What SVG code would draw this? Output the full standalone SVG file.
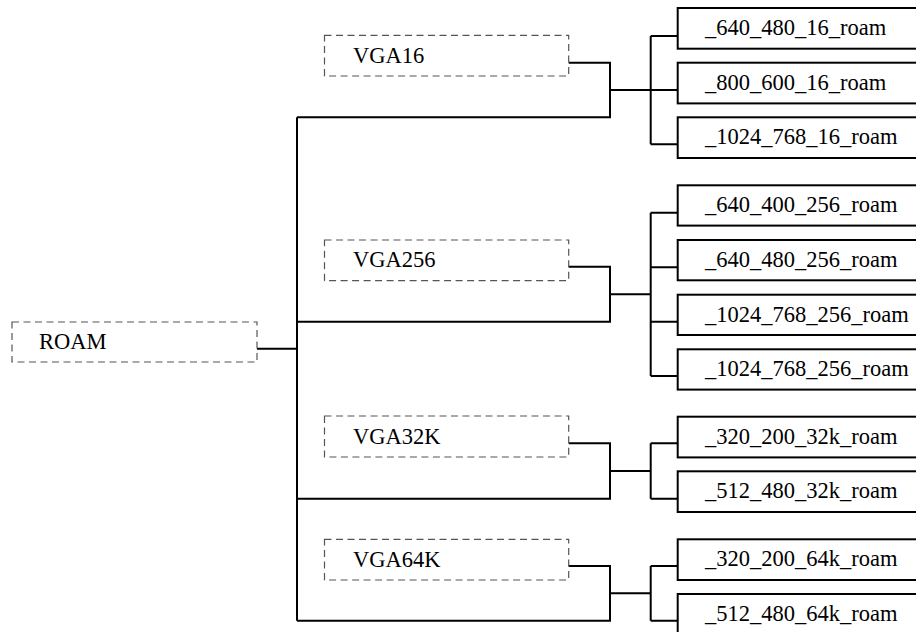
<svg xmlns="http://www.w3.org/2000/svg" width="916" height="632" viewBox="0 0 916 632">
<style>
.bg{fill:#fff}
.dash rect{fill:none;stroke:#555;stroke-width:1.2;stroke-dasharray:7,4.5}
.leaf rect{fill:#fff;stroke:#000;stroke-width:2}
.t{font-size:22.5px;fill:#000}
#connectors path{fill:none;stroke:#000;stroke-width:2}
</style>
<rect class="bg" x="0" y="0" width="916" height="632"/>
<g id="connectors">
<path d="M257,348.7H297M297,117.3V620.7"/>
<path d="M568.7,62.7H610V117.3H297M610,90H650.7M650.7,36V144.3M650.7,36H677.7M650.7,90H677.7M650.7,144.3H677.7"/>
<path d="M568.7,266.7H610V321.7H297M610,294.3H650.7M650.7,212.7V376M650.7,212.7H677.7M650.7,267.3H677.7M650.7,321.7H677.7M650.7,376H677.7"/>
<path d="M568.7,443.3H610V498.7H297M610,471H650.7M650.7,443.3V498.7M650.7,443.3H677.7M650.7,498.7H677.7"/>
<path d="M568.7,566H610V620.7H297M610,593.3H650.7M650.7,566V620.7M650.7,566H677.7M650.7,620.7H677.7"/>
</g>
<g font-family="Liberation Serif, Times New Roman, serif">
<g id="roam" class="dash"><rect x="12" y="322" width="245" height="40"/><text class="t" x="39" y="349">ROAM</text></g>
<g id="vga16" class="dash"><rect x="324.5" y="35.3" width="244.2" height="40.7"/><text class="t" x="353" y="62.7">VGA16</text></g>
<g id="vga256" class="dash"><rect x="324.5" y="240" width="244.2" height="40.7"/><text class="t" x="353" y="267">VGA256</text></g>
<g id="vga32k" class="dash"><rect x="324.5" y="416" width="244.2" height="41"/><text class="t" x="353" y="443.5">VGA32K</text></g>
<g id="vga64k" class="dash"><rect x="324.5" y="539.3" width="244.2" height="40.7"/><text class="t" x="353" y="566.5">VGA64K</text></g>
<g id="l_640_480_16" class="leaf"><rect x="677.7" y="8" width="260" height="40.7"/><text class="t" x="705" y="35">_640_480_16_roam</text></g>
<g id="l_800_600_16" class="leaf"><rect x="677.7" y="62.7" width="260" height="40.7"/><text class="t" x="705" y="89.7">_800_600_16_roam</text></g>
<g id="l_1024_768_16" class="leaf"><rect x="677.7" y="117.3" width="260" height="40.7"/><text class="t" x="705" y="144.3">_1024_768_16_roam</text></g>
<g id="l_640_400_256" class="leaf"><rect x="677.7" y="185.3" width="260" height="40.3"/><text class="t" x="705" y="212.3">_640_400_256_roam</text></g>
<g id="l_640_480_256" class="leaf"><rect x="677.7" y="240" width="260" height="40.3"/><text class="t" x="705" y="267">_640_480_256_roam</text></g>
<g id="l_1024_768_256a" class="leaf"><rect x="677.7" y="294.7" width="260" height="40.3"/><text class="t" x="705" y="321.7">_1024_768_256_roam</text></g>
<g id="l_1024_768_256b" class="leaf"><rect x="677.7" y="349.3" width="260" height="40.3"/><text class="t" x="705" y="376.3">_1024_768_256_roam</text></g>
<g id="l_320_200_32k" class="leaf"><rect x="677.7" y="416.7" width="260" height="40.7"/><text class="t" x="705" y="443.5">_320_200_32k_roam</text></g>
<g id="l_512_480_32k" class="leaf"><rect x="677.7" y="471.3" width="260" height="40.7"/><text class="t" x="705" y="498.3">_512_480_32k_roam</text></g>
<g id="l_320_200_64k" class="leaf"><rect x="677.7" y="539.3" width="260" height="40.7"/><text class="t" x="705" y="566.3">_320_200_64k_roam</text></g>
<g id="l_512_480_64k" class="leaf"><rect x="677.7" y="594" width="260" height="40.7"/><text class="t" x="705" y="621">_512_480_64k_roam</text></g>
</g>
</svg>
